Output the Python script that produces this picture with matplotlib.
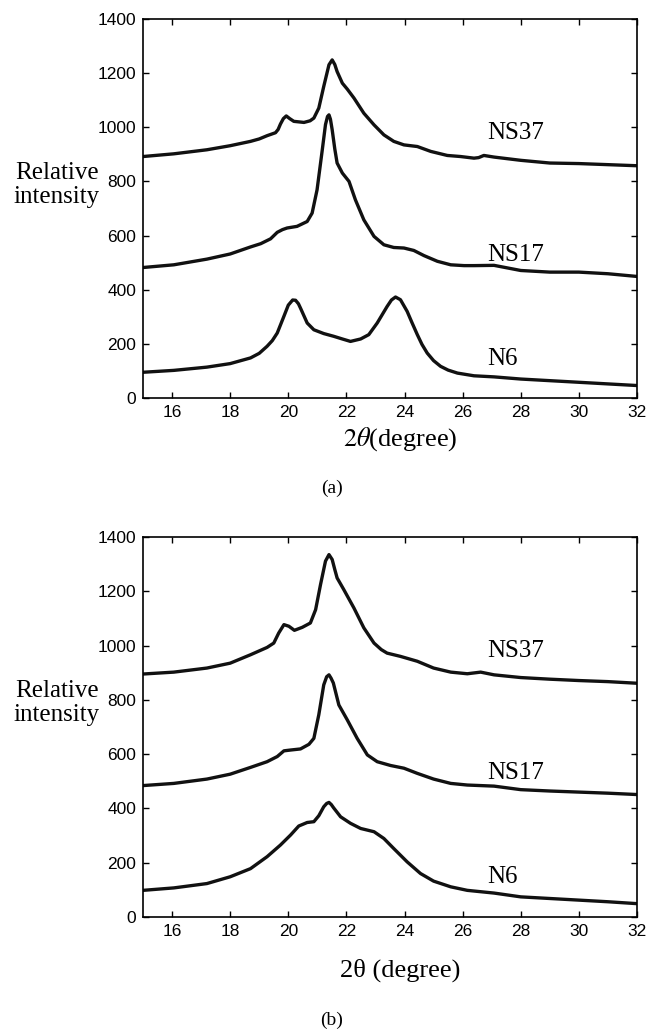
import numpy as np
import matplotlib
matplotlib.use("Agg")
import matplotlib.pyplot as plt

#XRD patterns, (a) and (b)
#each curve has its own 2theta sampling
ns37_a_x = [15, 16.06, 17.2, 18, 18.7, 19.0, 19.27, 19.56, 19.65, 19.73, 19.83, 19.93, 20.05, 20.19, 20.54, 20.75,
            20.88, 21.05, 21.22, 21.4, 21.51, 21.6, 21.68, 21.86, 22.03, 22.26, 22.6, 22.95, 23.29, 23.63, 23.98,
            24.44, 24.9, 25.47, 25.93, 26.39, 26.55, 26.73, 27.08, 28, 29, 30, 31, 32]
ns37_a_y = [892, 902, 917, 932, 948, 957, 969, 980, 992, 1012, 1032, 1042, 1032, 1022, 1018, 1024,
            1034, 1071, 1151, 1231, 1249, 1232, 1206, 1163, 1141, 1108, 1052, 1009, 972, 948, 935,
            929, 911, 896, 892, 886, 888, 896, 890, 878, 868, 866, 862, 858]

ns17_a_x = [15, 16.06, 17.2, 18, 18.7, 19.05, 19.39, 19.62, 19.8, 19.96, 20.3, 20.65, 20.82, 20.99, 21.17, 21.28,
            21.35, 21.4, 21.45, 21.51, 21.6, 21.68, 21.86, 22.09, 22.31, 22.6, 22.95, 23.29, 23.63, 23.98, 24.32,
            24.67, 25.13, 25.59, 26.05, 26.39, 27.08, 28, 29, 30, 31, 32]
ns17_a_y = [482, 492, 513, 532, 558, 570, 588, 612, 622, 628, 634, 652, 683, 769, 917, 1010,
            1040, 1046, 1030, 991, 920, 868, 831, 800, 732, 658, 597, 566, 556, 554, 545,
            526, 505, 492, 489, 489, 490, 471, 465, 465, 459, 449]

n6_a_x = [15, 16.06, 17.2, 18, 18.7, 19.0, 19.27, 19.45, 19.62, 19.85, 20.0, 20.15, 20.25, 20.35, 20.42, 20.65,
          20.88, 21.22, 21.56, 21.86, 22.14, 22.49, 22.77, 23.06, 23.4, 23.55, 23.69, 23.86, 24.09, 24.25, 24.44,
          24.6, 24.78, 25.0, 25.24, 25.5, 25.82, 26.39, 27.08, 28, 29, 30, 31, 32]
n6_a_y = [95, 102, 114, 127, 148, 165, 191, 212, 240, 302, 343, 362, 361, 348, 332, 277,
          252, 238, 228, 218, 209, 218, 234, 277, 338, 362, 373, 363, 320, 280, 234,
          198, 166, 138, 117, 103, 92, 82, 78, 70, 64, 58, 52, 46]

ns37_b_x = [15, 16.06, 17.2, 18, 18.7, 19.27, 19.5, 19.67, 19.85, 20.02, 20.21, 20.48, 20.76, 20.94, 21.11, 21.28,
            21.4, 21.51, 21.6, 21.68, 21.91, 22.26, 22.6, 22.95, 23.2, 23.4, 23.86, 24.44, 25.0, 25.59, 26.16,
            26.62, 27.08, 28, 29, 30, 31, 32]
ns37_b_y = [895, 902, 917, 935, 966, 993, 1009, 1046, 1077, 1071, 1056, 1067, 1083, 1132, 1225, 1311,
            1335, 1317, 1280, 1249, 1206, 1138, 1065, 1009, 985, 972, 960, 942, 917, 902, 896,
            902, 892, 882, 876, 871, 867, 861]

ns17_b_x = [15, 16.06, 17.2, 18, 18.7, 19.27, 19.62, 19.85, 20.08, 20.42, 20.71, 20.88, 21.05, 21.22, 21.32, 21.4,
            21.47, 21.55, 21.74, 22.03, 22.37, 22.72, 23.06, 23.52, 23.98, 24.44, 25.0, 25.59, 26.16, 27.08,
            28, 29, 30, 31, 32]
ns17_b_y = [484, 492, 508, 526, 551, 572, 591, 612, 615, 619, 636, 658, 745, 855, 885, 892,
            880, 862, 781, 726, 658, 597, 572, 558, 548, 529, 508, 492, 486, 482,
            469, 464, 460, 456, 451]

n6_b_x = [15, 16.06, 17.2, 18, 18.7, 19.27, 19.73, 20.08, 20.36, 20.65, 20.88, 21.05, 21.22, 21.32, 21.4, 21.48,
          21.56, 21.8, 22.14, 22.49, 22.95, 23.29, 23.63, 24.09, 24.55, 25.0, 25.59, 26.16, 27.08,
          28, 29, 30, 31, 32]
n6_b_y = [98, 107, 123, 148, 178, 222, 265, 302, 335, 348, 351, 373, 406, 418, 422, 414,
          402, 369, 345, 326, 314, 289, 252, 203, 160, 132, 111, 98, 88,
          74, 68, 62, 56, 49]

names = ["NS37", "NS17", "N6"]
name_y_a = [980, 528, 144]
name_y_b = [978, 530, 148]

SERIF = "Liberation Serif"
plt.rcParams["font.family"] = "Liberation Sans"
plt.rcParams["mathtext.fontset"] = "stix"

fig = plt.figure(figsize=(6.5, 10.34), dpi=100)
ax_a = fig.add_axes([0.22, 0.6151, 0.76, 0.3665])
ax_b = fig.add_axes([0.22, 0.1132, 0.76, 0.3675])

panels = [
    (ax_a, [(ns37_a_x, ns37_a_y), (ns17_a_x, ns17_a_y), (n6_a_x, n6_a_y)], name_y_a),
    (ax_b, [(ns37_b_x, ns37_b_y), (ns17_b_x, ns17_b_y), (n6_b_x, n6_b_y)], name_y_b),
]

for ax, curves, ny in panels:
    for cx, cy in curves:
        ax.plot(cx, cy, color="#111111", lw=2.4, solid_joinstyle="round")
    for nm, yy in zip(names, ny):
        ax.text(26.85, yy, nm, family=SERIF, fontsize=18, va="center", ha="left")
    ax.set_xlim(15, 32)
    ax.set_ylim(0, 1400)
    ax.set_xticks(np.arange(16, 33, 2))
    ax.set_yticks(np.arange(0, 1401, 200))
    ax.tick_params(direction="in", top=True, right=True, length=4, width=1, labelsize=12.5, pad=5)
    for sp in ax.spines.values():
        sp.set_linewidth(1.2)

#axis labels and captions as figure text
fig.text(57 / 650, 1 - 185 / 1034, "Relative\nintensity", family=SERIF, fontsize=18,
         ha="center", va="center", linespacing=1.15)
fig.text(57 / 650, 1 - 703 / 1034, "Relative\nintensity", family=SERIF, fontsize=18,
         ha="center", va="center", linespacing=1.15)
fig.text(400 / 650, 1 - 439 / 1034, r"$2\theta$(degree)", family=SERIF, fontsize=19, ha="center", va="center")
fig.text(400 / 650, 1 - 970 / 1034, "2θ (degree)", family=SERIF, fontsize=19, ha="center", va="center")
fig.text(332 / 650, 1 - 488 / 1034, "(a)", family=SERIF, fontsize=14, ha="center", va="center")
fig.text(332 / 650, 1 - 1020 / 1034, "(b)", family=SERIF, fontsize=14, ha="center", va="center")

fig.savefig("out.png", dpi=100)
